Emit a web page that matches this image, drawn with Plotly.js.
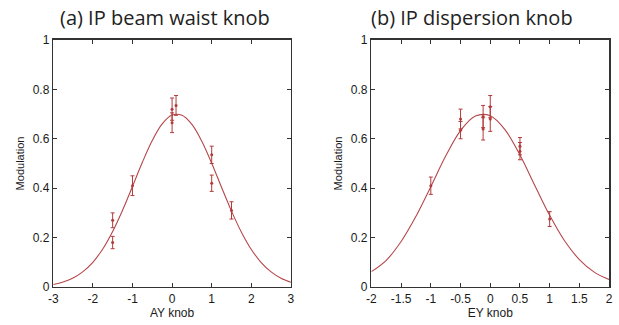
<!DOCTYPE html>
<html>
<head>
<meta charset="utf-8">
<script src="https://cdn.plot.ly/plotly-3.0.1.min.js"></script>
<style>html,body{margin:0;padding:0;background:#fff;}#chart{width:619px;height:325px;}</style>
</head>
<body>
<div id="chart"></div>
<script>
// ---- (a) IP beam waist knob ----
const aDataX = [-1.5, -1.5, -1.0, 0.0, 0.0, 0.1, 1.0, 1.0, 1.5];
const aDataY = [0.27, 0.18, 0.41, 0.72, 0.665, 0.735, 0.535, 0.42, 0.31];
const aDataErr = [0.03, 0.025, 0.04, 0.045, 0.04, 0.04, 0.035, 0.033, 0.035];
const aCurveX = [-3, -2.75, -2.5, -2.25, -2, -1.75, -1.5, -1.25, -1, -0.75, -0.5, -0.25, 0, 0.25, 0.5, 0.75, 1, 1.25, 1.5, 1.75, 2, 2.25, 2.5, 2.75, 3];
const aCurveY = [0.010, 0.020, 0.036, 0.062, 0.100, 0.154, 0.225, 0.311, 0.407, 0.505, 0.593, 0.660, 0.696, 0.695, 0.658, 0.590, 0.501, 0.403, 0.307, 0.222, 0.152, 0.099, 0.061, 0.035, 0.019];
const aTickVals = [-3, -2, -1, 0, 1, 2, 3];
const aTickText = ['-3', '-2', '-1', '0', '1', '2', '3'];

// ---- (b) IP dispersion knob ----
const bDataX = [-1.0, -0.5, -0.5, -0.12, -0.12, 0.0, 0.0, 0.5, 0.5, 1.0];
const bDataY = [0.41, 0.68, 0.635, 0.69, 0.64, 0.73, 0.68, 0.57, 0.55, 0.275];
const bDataErr = [0.035, 0.04, 0.035, 0.045, 0.045, 0.045, 0.05, 0.035, 0.035, 0.03];
const bCurveX = [-2, -1.75, -1.5, -1.25, -1, -0.75, -0.5, -0.25, 0, 0.25, 0.5, 0.75, 1, 1.25, 1.5, 1.75, 2];
const bCurveY = [0.062, 0.108, 0.184, 0.286, 0.406, 0.530, 0.633, 0.692, 0.693, 0.636, 0.534, 0.411, 0.290, 0.187, 0.111, 0.060, 0.030];
const bTickVals = [-2, -1.5, -1, -0.5, 0, 0.5, 1, 1.5, 2];
const bTickText = ['-2', '-1.5', '-1', '-0.5', '0', '0.5', '1', '1.5', '2'];

const yTickVals = [0, 0.2, 0.4, 0.6, 0.8, 1];
const yTickText = ['0', '0.2', '0.4', '0.6', '0.8', '1'];

const titles = ['(a) IP beam waist knob', '(b) IP dispersion knob'];
const xTitles = ['AY knob', 'EY knob'];
const yTitle = 'Modulation';

const red = '#b23a3a';
const curveColor = '#b5474a';

const traces = [
  {x: aCurveX, y: aCurveY, mode: 'lines', line: {color: curveColor, width: 1.1, shape: 'spline', smoothing: 1}, xaxis: 'x', yaxis: 'y', hoverinfo: 'skip'},
  {x: aDataX, y: aDataY, mode: 'markers', marker: {color: red, size: 3}, error_y: {type: 'data', array: aDataErr, visible: true, color: red, thickness: 1, width: 2}, xaxis: 'x', yaxis: 'y'},
  {x: bCurveX, y: bCurveY, mode: 'lines', line: {color: curveColor, width: 1.1, shape: 'spline', smoothing: 1}, xaxis: 'x2', yaxis: 'y2', hoverinfo: 'skip'},
  {x: bDataX, y: bDataY, mode: 'markers', marker: {color: red, size: 3}, error_y: {type: 'data', array: bDataErr, visible: true, color: red, thickness: 1, width: 2}, xaxis: 'x2', yaxis: 'y2'}
];

const tickFont = {family: 'Liberation Sans, Arial, sans-serif', size: 12, color: '#1a1a1a'};
const axisCommon = {
  showline: true, linecolor: '#333', linewidth: 1.5, mirror: 'ticks',
  ticks: 'inside', ticklen: 4, tickwidth: 1, tickcolor: '#333',
  showgrid: false, zeroline: false, tickfont: tickFont, fixedrange: true
};

const yDomain = [0.117, 0.877];
const layout = {
  width: 619, height: 325,
  margin: {l: 0, r: 0, t: 0, b: 0},
  paper_bgcolor: '#fff', plot_bgcolor: '#fff',
  showlegend: false,
  xaxis: Object.assign({}, axisCommon, {domain: [0.086, 0.470], range: [-3, 3], tickmode: 'array', tickvals: aTickVals, ticktext: aTickText, anchor: 'y',
    title: {text: xTitles[0], font: {family: 'Liberation Sans, Arial, sans-serif', size: 12, color: '#1a1a1a'}, standoff: 2}}),
  yaxis: Object.assign({}, axisCommon, {domain: yDomain, range: [0, 1], tickmode: 'array', tickvals: yTickVals, ticktext: yTickText, anchor: 'x',
    title: {text: yTitle, font: {family: 'Liberation Sans, Arial, sans-serif', size: 11, color: '#1a1a1a'}, standoff: 6}}),
  xaxis2: Object.assign({}, axisCommon, {domain: [0.600, 0.984], range: [-2, 2], tickmode: 'array', tickvals: bTickVals, ticktext: bTickText, anchor: 'y2',
    title: {text: xTitles[1], font: {family: 'Liberation Sans, Arial, sans-serif', size: 12, color: '#1a1a1a'}, standoff: 2}}),
  yaxis2: Object.assign({}, axisCommon, {domain: yDomain, range: [0, 1], tickmode: 'array', tickvals: yTickVals, ticktext: yTickText, anchor: 'x2',
    title: {text: yTitle, font: {family: 'Liberation Sans, Arial, sans-serif', size: 11, color: '#1a1a1a'}, standoff: 6}}),
  annotations: [
    {text: titles[0], xref: 'paper', yref: 'paper', x: 0.267, y: 0.945, xanchor: 'center', yanchor: 'middle', showarrow: false,
     font: {family: 'Open Sans, Noto Sans, sans-serif', size: 20, color: '#222'}},
    {text: titles[1], xref: 'paper', yref: 'paper', x: 0.763, y: 0.945, xanchor: 'center', yanchor: 'middle', showarrow: false,
     font: {family: 'Open Sans, Noto Sans, sans-serif', size: 20, color: '#222'}}
  ]
};

Plotly.newPlot('chart', traces, layout, {displayModeBar: false, staticPlot: true});
</script>
</body>
</html>
